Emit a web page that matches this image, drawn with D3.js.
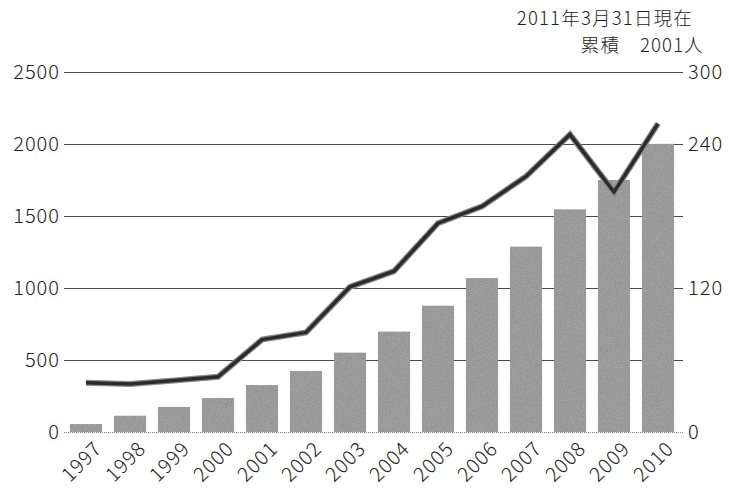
<!DOCTYPE html>
<html>
<head>
<meta charset="utf-8">
<script src="https://cdn.jsdelivr.net/npm/d3@7"></script>
<style>
  html, body { margin: 0; padding: 0; background: #fff; }
  svg text { font-family: "Noto Sans CJK JP", "Noto Sans", sans-serif; font-weight: 300; fill: #222; }
</style>
</head>
<body>
<svg id="chart" width="729" height="491"></svg>
<script>
// Years on the category axis
const years = ["1997","1998","1999","2000","2001","2002","2003","2004","2005","2006","2007","2008","2009","2010"];
// Cumulative total (bars, left axis)
const cumulative = [55, 113, 174, 236, 326, 424, 551, 697, 877, 1069, 1287, 1546, 1750, 2001];
// Count per year (line, right axis)
const perYear = [41, 40, 43, 46, 77, 83, 121, 134, 174, 188, 213, 248, 200, 257];
// Axis ticks
const leftTicks = [0, 500, 1000, 1500, 2000, 2500];
const rightLabels = [0, 120, 240, 300];
// Header note
const noteLines = ["2011年3月31日現在", "累積　2001人"];

const svg = d3.select("#chart");
const plotLeft = 64, plotRight = 680, plotTop = 72, plotBottom = 432;

const x = d3.scaleBand().domain(years).range([plotLeft, plotRight])
  .paddingInner(0.27).paddingOuter(0.135);
const yL = d3.scaleLinear().domain([0, 2500]).range([plotBottom, plotTop]);
const yR = d3.scaleLinear().domain([0, 300]).range([plotBottom, plotTop]);

// grain for the bars
const defs = svg.append("defs");
const f = defs.append("filter").attr("id", "grain").attr("x", 0).attr("y", 0).attr("width", 1).attr("height", 1);
f.append("feTurbulence").attr("type", "fractalNoise").attr("baseFrequency", 1.2).attr("numOctaves", 1).attr("seed", 3).attr("result", "n");
f.append("feColorMatrix").attr("in", "n").attr("type", "matrix")
  .attr("values", "0 0 0 0 0  0 0 0 0 0  0 0 0 0 0  0 0 0 0.55 -0.18").attr("result", "a");
f.append("feComposite").attr("in", "a").attr("in2", "SourceGraphic").attr("operator", "in").attr("result", "b");
f.append("feMerge").call(m => { m.append("feMergeNode").attr("in", "SourceGraphic"); m.append("feMergeNode").attr("in", "b"); });

// gridlines
svg.append("g").selectAll("line").data(leftTicks.filter(d => d > 0)).join("line")
  .attr("x1", plotLeft).attr("x2", plotRight + 3)
  .attr("y1", d => Math.round(yL(d)) + 0.5).attr("y2", d => Math.round(yL(d)) + 0.5)
  .attr("stroke", "#4a4a4a").attr("stroke-width", 1);
svg.append("line").attr("x1", plotLeft).attr("x2", plotRight + 3)
  .attr("y1", plotBottom + 0.5).attr("y2", plotBottom + 0.5)
  .attr("stroke", "#888").attr("stroke-width", 1).attr("stroke-dasharray", "1,1");

// bars
svg.append("g").selectAll("rect").data(years).join("rect")
  .attr("x", d => x(d)).attr("width", x.bandwidth())
  .attr("y", (d, i) => yL(cumulative[i]))
  .attr("height", (d, i) => plotBottom - yL(cumulative[i]))
  .attr("fill", "#a2a2a2").attr("filter", "url(#grain)");

// line
const lineGen = d3.line().x((d, i) => x(years[i]) + x.bandwidth() / 2).y(d => yR(d));
svg.append("path").datum(perYear).attr("d", lineGen).attr("fill", "none")
  .attr("stroke", "#8a8a8a").attr("stroke-width", 6).attr("stroke-linejoin", "miter");
svg.append("path").datum(perYear).attr("d", lineGen).attr("fill", "none")
  .attr("stroke", "#2b2b2b").attr("stroke-width", 3.5).attr("stroke-linejoin", "miter");

// left axis labels
svg.append("g").selectAll("text").data(leftTicks).join("text")
  .attr("x", 60).attr("y", d => yL(d)).attr("dy", "0.36em")
  .attr("text-anchor", "end").attr("font-size", 20).attr("letter-spacing", 1).text(d => d);

// right axis labels
svg.append("g").selectAll("text").data(rightLabels).join("text")
  .attr("x", 688).attr("y", d => yR(d)).attr("dy", "0.36em")
  .attr("text-anchor", "start").attr("font-size", 20).attr("letter-spacing", 1).text(d => d);

// x labels
svg.append("g").selectAll("text").data(years).join("text")
  .attr("transform", d => `translate(${x(d) + x.bandwidth() / 2 + 17},${plotBottom + 18}) rotate(-45)`)
  .attr("text-anchor", "end").attr("font-size", 20).attr("letter-spacing", 1).text(d => d);

// header note
svg.append("text").attr("x", 693).attr("y", 25).attr("text-anchor", "end").attr("font-size", 18.5).attr("letter-spacing", 1.2).text(noteLines[0]);
svg.append("text").attr("x", 704).attr("y", 52).attr("text-anchor", "end").attr("font-size", 18.5).attr("letter-spacing", 1.2).text(noteLines[1]);
</script>
</body>
</html>
